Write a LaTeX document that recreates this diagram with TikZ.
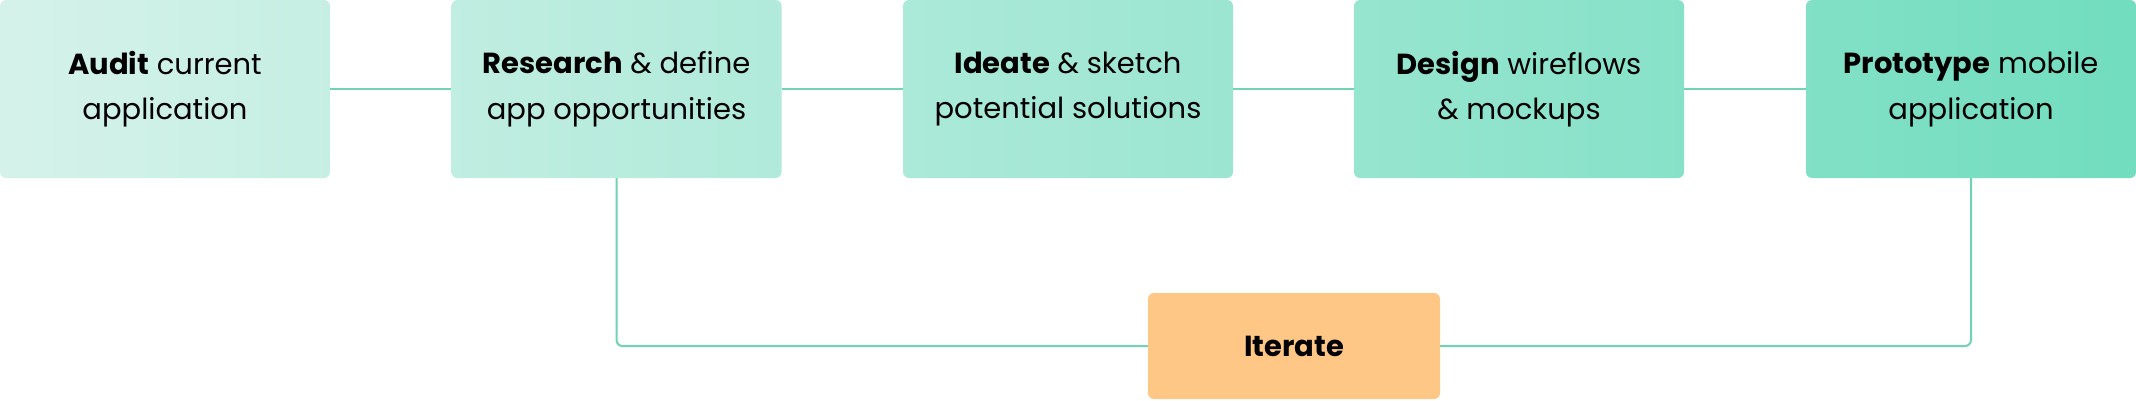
\documentclass[tikz,border=0pt]{standalone}
\usepackage{fontspec}
\setmainfont{Poppins}
\usetikzlibrary{positioning,calc}
\definecolor{gstart}{HTML}{D5F2EA}
\definecolor{gend}{HTML}{72DDBF}
\definecolor{linkgreen}{HTML}{6FD3B4}
\definecolor{orange}{HTML}{FEC785}
\tikzset{
  label/.style={font=\fontsize{29}{45.5}\selectfont,text=black,align=center},
  stage/.style={label,rounded corners=6pt,minimum width=330pt,minimum height=178pt,inner sep=0pt},
  loopbox/.style={label,rounded corners=6pt,fill=orange,minimum width=292pt,minimum height=106pt,inner sep=0pt},
  link/.style={draw=linkgreen,line width=2pt,rounded corners=6pt}
}
\begin{document}
\begin{tikzpicture}[x=1pt,y=-1pt]
\path[use as bounding box] (0,0) rectangle (2136,400);
% process stages
\node[stage,left color=gend!0!gstart,right color=gend!15!gstart] (audit) at (165,89) {\textbf{Audit} current\\application};
\node[stage,left color=gend!21!gstart,right color=gend!37!gstart] (research) at (616.5,89) {\textbf{Research} \& define\\app opportunities};
\node[stage,left color=gend!42!gstart,right color=gend!58!gstart] (ideate) at (1068,89) {\textbf{Ideate} \& sketch\\potential solutions};
\node[stage,left color=gend!63!gstart,right color=gend!79!gstart] (design) at (1519,89) {\textbf{Design} wireflows\\\& mockups};
\node[stage,left color=gend!85!gstart,right color=gend!100!gstart] (proto) at (1971,89) {\textbf{Prototype} mobile\\application};
\node[loopbox] (iterate) at (1294,346) {\textbf{Iterate}};
% connectors
\draw[link] (audit)--(research); \draw[link] (research)--(ideate);
\draw[link] (ideate)--(design); \draw[link] (design)--(proto);
\draw[link] (research.south) |- (iterate.west);
\draw[link] (iterate.east) -| (proto.south);
\end{tikzpicture}
\end{document}
